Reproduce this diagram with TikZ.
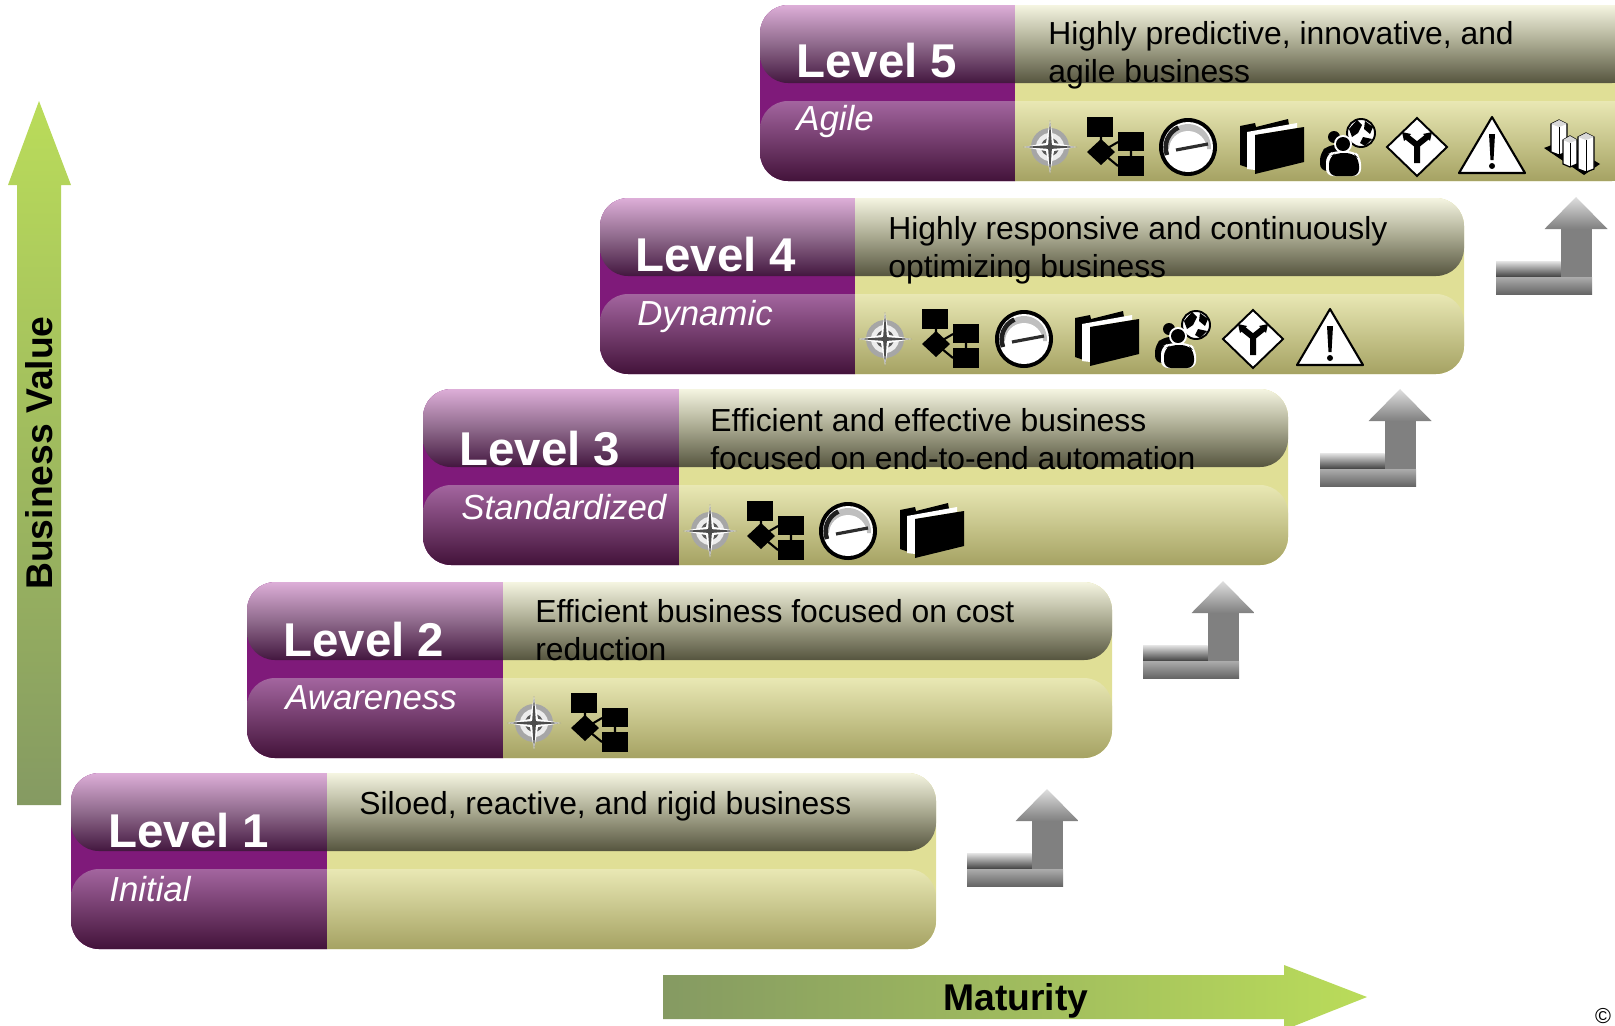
\documentclass[tikz,border=0pt]{standalone}
\usepackage{fontspec}
\setmainfont{Liberation Sans}
\usepackage{color}
\definecolor{purplebase}{HTML}{7F1A7A}
\definecolor{purplehi}{HTML}{DDAED8}
\definecolor{purplemid}{HTML}{8F6A8C}
\definecolor{purplelo}{HTML}{43173F}
\definecolor{purplesoft}{HTML}{A3659F}
\definecolor{purpledeep}{HTML}{43133A}
\definecolor{olivebase}{HTML}{E0DF96}
\definecolor{olivehi}{HTML}{F5F5E1}
\definecolor{olivemid}{HTML}{A8A88F}
\definecolor{olivelo}{HTML}{56553F}
\definecolor{olivesoft}{HTML}{E9E8B4}
\definecolor{olivedeep}{HTML}{A5A263}
\definecolor{greenhi}{HTML}{BADC5A}
\definecolor{greenlo}{HTML}{859A62}
\tikzset{
  levelfont/.style={font=\fontsize{27}{32}\selectfont\bfseries, text=white, anchor=base west},
  namefont/.style={font=\fontsize{19.8}{24}\selectfont\itshape, text=white, anchor=base west},
  descfont/.style={font=\fontsize{18.12}{21.6}\selectfont, text=black, anchor=base west, align=left},
  axisfont/.style={font=\fontsize{21.2}{25}\selectfont\bfseries, text=black},
  pbase/.style={fill=purplebase},
  pup/.style={top color=purplehi, bottom color=purplelo, middle color=purplemid},
  plow/.style={top color=purplesoft, bottom color=purpledeep},
  obase/.style={fill=olivebase},
  oup/.style={top color=olivehi, bottom color=olivelo, middle color=olivemid},
  olow/.style={top color=olivesoft, bottom color=olivedeep},
  pics/stepup/.style={code={
    \fill[gray] (-15.5,-30) rectangle (15.5,-80);
    \path[top color=gray!25, bottom color=gray] (0,0) -- (31.5,-32) -- (-31.5,-32) -- cycle;
    \path[top color=gray!20, bottom color=black!75] (-80,-64) rectangle (-15.5,-80);
    \path[top color=gray!65, bottom color=black!60] (-80,-80) rectangle (16,-97);
  }},
  pics/compass/.style={code={
    \fill[gray!70] (0,0) circle (19);
    \fill[gray!15] (0,0) circle (14);
    \fill[gray!70!black] (0,0) circle (9);
    \fill[white] (27,0) -- (4,4) -- (0,27) -- (-4,4) -- (-27,0) -- (-4,-4) -- (0,-27) -- (4,-4) -- cycle;
    \fill[black!70] (0,27) -- (2,0) -- (0,-27) -- (-2,0) -- cycle;
    \fill[black!70] (27,0) -- (0,2) -- (-27,0) -- (0,-2) -- cycle;
  }},
  pics/flowchart/.style={code={
    \draw[line width=1.2pt] (-14,10) -- (-14,-5) -- (3,5) (-14,-5) -- (3,-19) (16,-4) -- (16,-9);
    \fill (-28,30) rectangle (-2,10);
    \fill (3,15) rectangle (29,-4);
    \fill (3,-9) rectangle (29,-29);
    \fill (-28,-5) -- (-14,8) -- (0,-5) -- (-14,-18) -- cycle;
  }},
  pics/gauge/.style={code={
    \fill (0,0) circle (29);
    \fill[white] (0,0) circle (25);
    \fill[gray!50] (-23,-2) arc (185:-5:23) -- cycle;
    \fill[white] (0,-3) circle (19);
    \draw[line width=2.6pt, gray!25!black] (-21,-8) arc (200:115:22);
    \draw[line width=1.8pt, gray!35!black] (-12,-3) -- (20,3);
  }},
  pics/folders/.style={code={
    \fill (-32,21) -- (-17,24) -- (-16,20) -- (16,28) -- (17,22) -- (-17,13) -- (-17,-23) -- (-32,-18) -- cycle;
    \fill[white] (-25,15) -- (25,24) -- (25,19) -- (-17,12) -- (-17,-23) -- (-25,-22) -- cycle;
    \fill (-17,12) -- (32,20) -- (32,-15) -- (-17,-27) -- cycle;
  }},
  pics/people/.style={code={
    \draw[line width=1.1pt, fill=white] (13,14) circle (14);
    \fill (1,18) -- (9,27) -- (14,22) -- (10,14) -- (4,10) -- cycle;
    \fill (17,26) -- (25,20) -- (22,13) -- (16,18) -- cycle;
    \fill (15,10) -- (24,8) -- (17,1) -- (12,4) -- cycle;
    \fill (-14,10) circle (6);
    \fill[rounded corners=4] (-28,-24) -- (-28,-6) -- (-20,2) -- (-8,2) -- (-8,-24) -- cycle;
    \fill[white] (-5,3) circle (9);
    \fill (-5,3) circle (7);
    \fill[white, rounded corners=4] (-22,-29) -- (-22,-8) -- (-14,-4) -- (6,-4) -- (13,-10) -- (13,-29) -- cycle;
    \fill[rounded corners=4] (-19,-29) -- (-19,-10) -- (-12,-6) -- (5,-6) -- (11,-12) -- (11,-29) -- cycle;
  }},
  pics/fork/.style={code={
    \draw[line width=1.1pt, fill=white] (-30,0) -- (0,29) -- (30,0) -- (0,-29) -- cycle;
    \draw[line width=3.4pt] (0,-16) -- (0,2) -- (-10,10) (0,2) -- (10,10);
    \fill (-15,15) -- (-6,13) -- (-13,6) -- cycle;
    \fill (15,15) -- (6,13) -- (13,6) -- cycle;
  }},
  pics/warning/.style={code={
    \draw[line width=1.2pt, line join=round, fill=white] (0,30) -- (33,-26) -- (-33,-26) -- cycle;
    \fill (-3,13) -- (3,13) -- (1.5,-13) -- (-1.5,-13) -- cycle;
    \fill (0,-19) circle (3);
  }},
  pics/towers/.style={code={
    \fill (-28,-1) -- (-10,6) -- (28,-17) -- (12,-28) -- cycle;
    \foreach \cx/\ctop/\cbot/\cw in {-13/23/-5/8, -2/7/-17/7, 14/10/-22/8}{
      \draw[line width=0.7pt, fill=white] (\cx-\cw,\ctop) -- (\cx-\cw,\cbot) -- (\cx,\cbot-3) -- (\cx+\cw,\cbot) -- (\cx+\cw,\ctop) -- (\cx,\ctop+4) -- cycle;
      \fill[gray!30] (\cx-\cw,\ctop) -- (\cx,\ctop+4) -- (\cx+\cw,\ctop) -- (\cx,\ctop-3) -- cycle;
      \draw[line width=0.5pt] (\cx,\ctop-3) -- (\cx,\cbot-3);
    }
  }}
}
% left end of a bar: style, x, split, top, bottom
\newcommand{\leftbar}[5]{\path[#1] (#3,{-(#4)}) -- ({#2+28},{-(#4)}) arc (90:180:28) -- (#2,{-(#5)+28}) arc (180:270:28) -- (#3,{-(#5)}) -- cycle;}
% right end of a bar: style, split, x, top, bottom
\newcommand{\rightbar}[5]{\path[#1] (#2,{-(#4)}) -- ({#3-28},{-(#4)}) arc (90:0:28) -- (#3,{-(#5)+28}) arc (0:-90:28) -- (#2,{-(#5)}) -- cycle;}

\begin{document}
\begin{tikzpicture}[x=0.02cm,y=0.02cm]
\tikzstyle{every node}+=[inner sep=0pt]
\clip (0,0) rectangle (1615,-1025);
\path[top color=greenhi, bottom color=greenlo] (39,-101) -- (71,-185) -- (61,-185) -- (61,-805) -- (17,-805) -- (17,-185) -- (8,-185) -- cycle;
\path[left color=greenlo, right color=greenhi] (663,-975) -- (1284,-975) -- (1284,-965) -- (1367,-997) -- (1284,-1030) -- (1284,-1019) -- (663,-1019) -- cycle;
\node [axisfont, rotate=90] (bizvalue) at (39,-453) {Business Value};
\node [axisfont] (maturity) at (1016,-1001) {Maturity};
\node [font=\fontsize{12.3}{14}\selectfont] (copymark) at (1603,-1016) {©};
\foreach \x/\s/\r/\t in {71/327/936/773, 247/503/1112/582, 423/679/1288/389, 600/855/1464/198, 760/1015/1640/5}{
  \leftbar{pbase}{\x}{\s}{\t}{\t+176}
  \rightbar{obase}{\s}{\r}{\t}{\t+176}
  \leftbar{plow}{\x}{\s}{\t+96}{\t+176}
  \rightbar{olow}{\s}{\r}{\t+96}{\t+176}
  \leftbar{pup}{\x}{\s}{\t}{\t+78}
  \rightbar{oup}{\s}{\r}{\t}{\t+78}
}
\node [levelfont] (level1) at (108,-847) {Level 1};
\node [namefont] (name1) at (109,-901) {Initial};
\node [descfont] (desc1) at (359,-814) {Siloed, reactive, and rigid business};
\node [levelfont] (level2) at (283,-656) {Level 2};
\node [namefont] (name2) at (285,-709) {Awareness};
\node [descfont] (desc2) at (535,-660) {Efficient business focused on cost\\reduction};
\node [levelfont] (level3) at (459,-465) {Level 3};
\node [namefont] (name3) at (461,-519) {Standardized};
\node [descfont] (desc3) at (710,-469) {Efficient and effective business\\focused on end-to-end automation};
\node [levelfont] (level4) at (635,-271) {Level 4};
\node [namefont] (name4) at (637,-325) {Dynamic};
\node [descfont] (desc4) at (888,-277) {Highly responsive and continuously\\optimizing business};
\node [levelfont] (level5) at (796,-77) {Level 5};
\node [namefont] (name5) at (796,-130) {Agile};
\node [descfont] (desc5) at (1048,-82.5) {Highly predictive, innovative, and\\agile business};
\foreach \i/\ix in {compass/534, flowchart/599}
  \pic at (\ix,-723) {\i};
\foreach \i/\ix in {compass/710, flowchart/775, gauge/848, folders/932}
  \pic at (\ix,-531) {\i};
\foreach \i/\ix in {compass/885, flowchart/950, gauge/1024, folders/1107, people/1183, fork/1253, warning/1330}
  \pic at (\ix,-339) {\i};
\foreach \i/\ix in {compass/1050, flowchart/1115, gauge/1188, folders/1272, people/1348, fork/1417, warning/1492, towers/1572}
  \pic at (\ix,-147) {\i};
\foreach \ax/\ay in {1047/789, 1223/581, 1400/389, 1576/197}
  \pic at (\ax,-\ay) {stepup};
\end{tikzpicture}
\end{document}
